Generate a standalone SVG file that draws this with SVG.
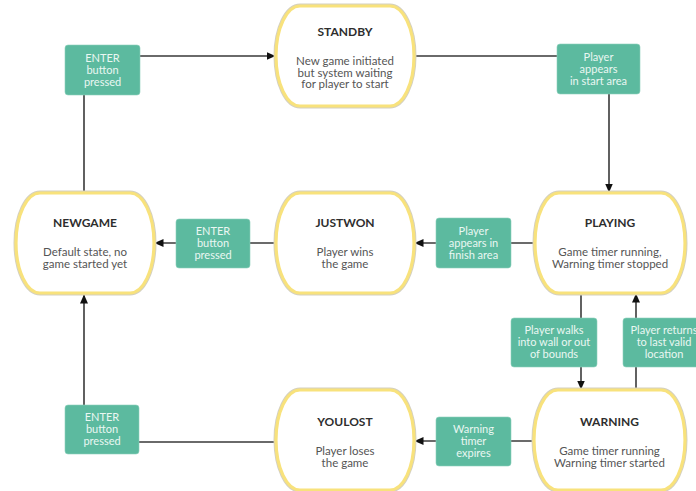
<svg xmlns="http://www.w3.org/2000/svg" width="696" height="491" viewBox="0 0 696 491">
<defs>
<marker id="arr" markerWidth="9" markerHeight="8" refX="8.5" refY="4" orient="auto" markerUnits="userSpaceOnUse">
<path d="M0,0 L9,4 L0,8 Z" fill="#111"/>
</marker>
<style>
.node-out{fill:none;stroke:#d4d0c0;stroke-width:5}
.node{fill:#fff;stroke:#f8e27c;stroke-width:3.2}
.title{font-family:Lato,"Liberation Sans",sans-serif;font-weight:bold;font-size:12px;fill:#2e2e2e;text-anchor:middle}
.desc{font-family:Lato,"Liberation Sans",sans-serif;font-size:11.5px;fill:#555;text-anchor:middle}
.lbl{fill:#5cba9f;stroke:#8fd0bc;stroke-width:0.6}
.lt{font-family:Lato,"Liberation Sans",sans-serif;font-size:11px;fill:#eaf7f2;text-anchor:middle}
.conn{fill:none;stroke:#3a3a3a;stroke-width:1.6}
</style>
</defs>
<rect width="696" height="491" fill="#fff"/>
<g id="connectors">
<path class="conn" d="M84,193 V56 H275" marker-end="url(#arr)"/>
<path class="conn" d="M414,56 H609 V192" marker-end="url(#arr)"/>
<path class="conn" d="M535,243 H415" marker-end="url(#arr)"/>
<path class="conn" d="M276,243 H155" marker-end="url(#arr)"/>
<path class="conn" d="M581,294 V389" marker-end="url(#arr)"/>
<path class="conn" d="M636,390 V294" marker-end="url(#arr)"/>
<path class="conn" d="M534,441 H415" marker-end="url(#arr)"/>
<path class="conn" d="M276,442 H84 V295" marker-end="url(#arr)"/>
</g>
<g id="standby">
<rect class="node-out" x="276" y="6" width="138" height="100" rx="24" ry="50"/>
<rect class="node" x="276" y="6" width="138" height="100" rx="24" ry="50"/>
<text class="title" x="345" y="36">STANDBY</text>
<text class="desc" x="345" y="65">New game initiated</text>
<text class="desc" x="345" y="76.5">but system waiting</text>
<text class="desc" x="345" y="88">for player to start</text>
</g>
<g id="newgame">
<rect class="node-out" x="16" y="193" width="138" height="100" rx="24" ry="50"/>
<rect class="node" x="16" y="193" width="138" height="100" rx="24" ry="50"/>
<text class="title" x="85" y="227">NEWGAME</text>
<text class="desc" x="85" y="256">Default state, no</text>
<text class="desc" x="85" y="267.5">game started yet</text>
</g>
<g id="justwon">
<rect class="node-out" x="276" y="193" width="138" height="100" rx="24" ry="50"/>
<rect class="node" x="276" y="193" width="138" height="100" rx="24" ry="50"/>
<text class="title" x="345" y="227">JUSTWON</text>
<text class="desc" x="345" y="256">Player wins</text>
<text class="desc" x="345" y="267.5">the game</text>
</g>
<g id="playing">
<rect class="node-out" x="535" y="193" width="150" height="100" rx="24" ry="50"/>
<rect class="node" x="535" y="193" width="150" height="100" rx="24" ry="50"/>
<text class="title" x="610" y="227">PLAYING</text>
<text class="desc" x="610" y="256">Game timer running,</text>
<text class="desc" x="610" y="267.5">Warning timer stopped</text>
</g>
<g id="youlost">
<rect class="node-out" x="276" y="390" width="138" height="100" rx="24" ry="50"/>
<rect class="node" x="276" y="390" width="138" height="100" rx="24" ry="50"/>
<text class="title" x="345" y="426">YOULOST</text>
<text class="desc" x="345" y="455">Player loses</text>
<text class="desc" x="345" y="466.5">the game</text>
</g>
<g id="warning">
<rect class="node-out" x="534" y="390" width="151" height="100" rx="24" ry="50"/>
<rect class="node" x="534" y="390" width="151" height="100" rx="24" ry="50"/>
<text class="title" x="609.5" y="426">WARNING</text>
<text class="desc" x="609.5" y="455">Game timer running</text>
<text class="desc" x="609.5" y="466.5">Warning timer started</text>
</g>
<g id="lbl-enter-top">
<rect class="lbl" x="65" y="45" width="75" height="50" rx="3"/>
<text class="lt" x="102.5" y="62">ENTER</text>
<text class="lt" x="102.5" y="74">button</text>
<text class="lt" x="102.5" y="86">pressed</text>
</g>
<g id="lbl-start-area">
<rect class="lbl" x="557" y="44" width="83" height="50" rx="3"/>
<text class="lt" x="598.5" y="61">Player</text>
<text class="lt" x="598.5" y="73">appears</text>
<text class="lt" x="598.5" y="85">in start area</text>
</g>
<g id="lbl-enter-mid">
<rect class="lbl" x="176" y="219" width="74" height="49" rx="3"/>
<text class="lt" x="213" y="235">ENTER</text>
<text class="lt" x="213" y="247">button</text>
<text class="lt" x="213" y="259">pressed</text>
</g>
<g id="lbl-finish-area">
<rect class="lbl" x="436" y="218" width="75" height="50" rx="3"/>
<text class="lt" x="473.5" y="235">Player</text>
<text class="lt" x="473.5" y="247">appears in</text>
<text class="lt" x="473.5" y="259">finish area</text>
</g>
<g id="lbl-walks-wall">
<rect class="lbl" x="511" y="318" width="86" height="49" rx="3"/>
<text class="lt" x="554" y="334">Player walks</text>
<text class="lt" x="554" y="346">into wall or out</text>
<text class="lt" x="554" y="358">of bounds</text>
</g>
<g id="lbl-returns">
<rect class="lbl" x="623" y="318" width="82" height="49" rx="3"/>
<text class="lt" x="664" y="334">Player returns</text>
<text class="lt" x="664" y="346">to last valid</text>
<text class="lt" x="664" y="358">location</text>
</g>
<g id="lbl-timer-expires">
<rect class="lbl" x="436" y="417" width="75" height="49" rx="3"/>
<text class="lt" x="473.5" y="433">Warning</text>
<text class="lt" x="473.5" y="445">timer</text>
<text class="lt" x="473.5" y="457">expires</text>
</g>
<g id="lbl-enter-bottom">
<rect class="lbl" x="65" y="405" width="74" height="49" rx="3"/>
<text class="lt" x="102" y="421">ENTER</text>
<text class="lt" x="102" y="433">button</text>
<text class="lt" x="102" y="445">pressed</text>
</g>
</svg>
